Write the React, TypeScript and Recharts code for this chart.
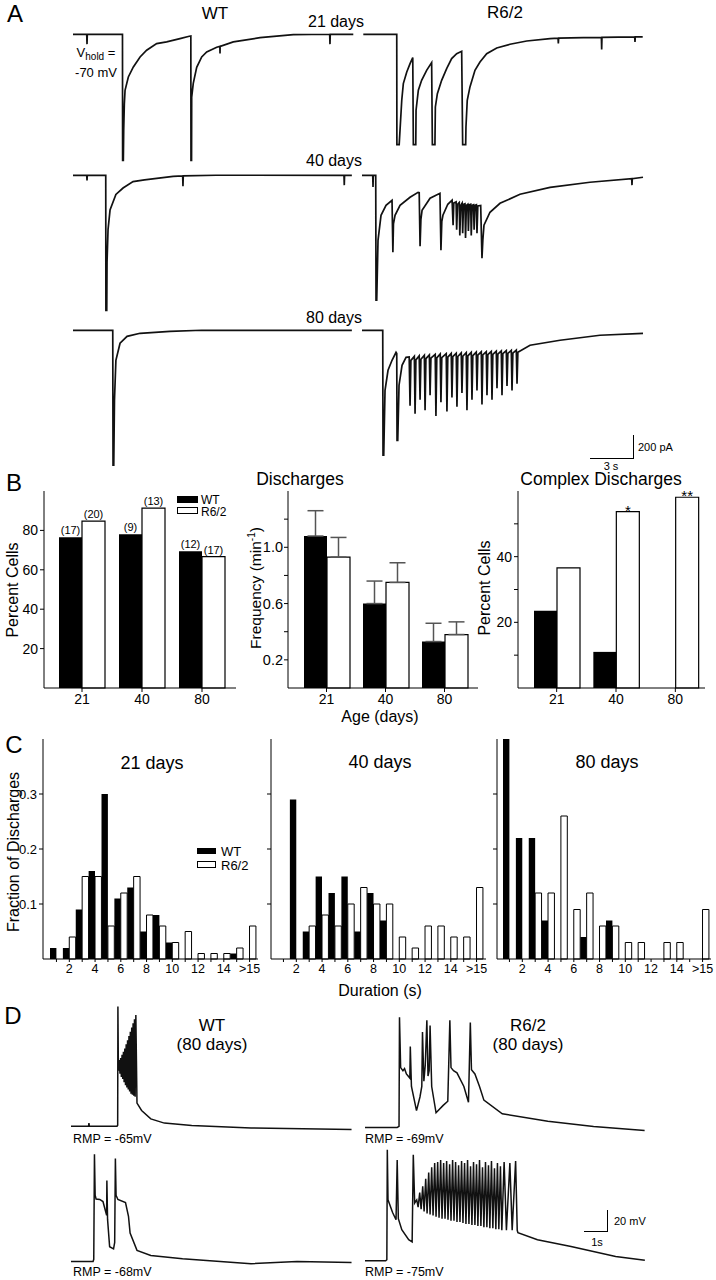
import React from 'react'
import { BarChart, Bar, XAxis, YAxis, ErrorBar, LabelList, LineChart, Line } from 'recharts'

const FONT = '"Liberation Sans", Arial, Helvetica, sans-serif'

// ---------- panel B ----------
const ages = ['21', '40', '80']
const pctWT = [76.5, 78, 69.4]
const pctR62 = [84.7, 91.3, 66.7]
const nWT = [17, 9, 12]
const nR62 = [20, 13, 17]
const freqWT = [1.08, 0.6, 0.33]
const freqR62 = [0.93, 0.75, 0.38]
const freqErrWT = [0.18, 0.16, 0.13]
const freqErrR62 = [0.14, 0.14, 0.09]
const complexWT = [23.5, 11, 0]
const complexR62 = [36.6, 53.7, 58.1]
const complexSig = ['', '*', '**']

// ---------- panel C ----------
const durBins = ['1', '2', '3', '4', '5', '6', '7', '8', '9', '10', '11', '12', '13', '14', '15', '>15']
const d21WT = [0.02, 0.02, 0.09, 0.16, 0.3, 0.11, 0.13, 0.05, 0.08, 0.03, 0, 0, 0, 0, 0.01, 0]
const d21R62 = [0, 0.04, 0.15, 0.15, 0.06, 0.12, 0.15, 0.08, 0.06, 0.03, 0.05, 0.01, 0.01, 0.01, 0.02, 0.06]
const d40WT = [0, 0.29, 0.05, 0.15, 0.12, 0.15, 0.05, 0.12, 0.07, 0, 0, 0, 0, 0, 0, 0]
const d40R62 = [0, 0, 0.06, 0.08, 0.06, 0.1, 0.13, 0.1, 0.1, 0.04, 0.02, 0.06, 0.06, 0.04, 0.04, 0.13]
const d80WT = [0.4, 0.22, 0.22, 0.07, 0, 0, 0.04, 0, 0.07, 0, 0, 0, 0, 0, 0, 0]
const d80R62 = [0, 0, 0.12, 0.12, 0.26, 0.09, 0.12, 0.06, 0.06, 0.03, 0.03, 0, 0.03, 0.03, 0, 0.09]

// ---------- panel A traces: [time s, current pA] ----------
const a21WT: [number, number][] = [[0,0],[0.96,0],[0.98,-85],[1.0,0],[3.46,0],[3.47,-1087],[3.52,-1087],[3.545,-830],[3.59,-600],[3.64,-483],[3.87,-368],[4.22,-282],[4.69,-196],[5.15,-138],[5.85,-80],[6.55,-66],[7.48,-37],[8.13,-17],[8.24,-15],[8.25,-1087],[8.29,-1087],[8.3,-543],[8.41,-423],[8.65,-285],[9.0,-196],[9.35,-153],[10.05,-112],[10.27,-105],[10.28,-165],[10.29,-105],[11.21,-66],[13.08,-29],[15.41,-3],[17.95,0],[17.97,-85],[17.99,0],[19.6,0]]
const a21R62: [number, number][] = [[0.09,0],[2.43,0],[2.44,-951],[2.6,-951],[2.78,-569],[2.89,-425],[3.13,-325],[3.36,-253],[3.55,-201],[3.59,-951],[3.76,-951],[3.78,-655],[3.94,-483],[4.17,-397],[4.52,-311],[4.87,-244],[4.92,-951],[5.1,-951],[5.13,-627],[5.27,-512],[5.57,-397],[5.92,-296],[6.27,-210],[6.62,-167],[6.97,-147],[7.04,-951],[7.25,-951],[7.27,-800],[7.36,-569],[7.55,-454],[7.9,-311],[8.25,-239],[8.72,-167],[9.42,-118],[10.35,-86],[11.52,-58],[13.15,-37],[13.71,-33],[13.73,-80],[13.75,-33],[15.48,-29],[16.74,-26],[16.76,-132],[16.78,-26],[19.07,-23],[19.09,-66],[19.11,-23],[19.63,-23]]
const a40WT: [number, number][] = [[0,0],[0.96,0],[0.98,-45],[1.0,0],[2.29,0],[2.3,-1165],[2.36,-1165],[2.38,-750],[2.45,-470],[2.59,-300],[3.0,-165],[3.5,-110],[4.2,-55],[5.0,-40],[7.0,-10],[7.67,-5],[7.69,-95],[7.71,-5],[10.0,0],[18.95,0],[18.97,-85],[18.99,0],[19.5,0]]
const a40R62: [number, number][] = [[0,0],[0.75,0],[0.77,-100],[0.79,0],[0.96,0],[0.98,-1078],[1.03,-1078],[1.12,-561],[1.33,-345],[1.68,-259],[2.1,-216],[2.16,-664],[2.2,-420],[2.31,-345],[2.66,-259],[3.36,-190],[3.92,-147],[4.0,-150],[4.06,-612],[4.12,-380],[4.2,-302],[4.76,-198],[5.45,-155],[5.52,-647],[5.58,-400],[5.66,-345],[6.0,-250],[6.3,-215],[6.37,-430],[6.42,-240],[6.58,-230],[6.62,-470],[6.68,-250],[6.8,-235],[6.84,-520],[6.9,-260],[7.0,-240],[7.04,-500],[7.1,-250],[7.2,-245],[7.24,-540],[7.3,-260],[7.4,-250],[7.44,-480],[7.5,-255],[7.6,-250],[7.64,-520],[7.7,-260],[7.8,-255],[7.84,-470],[7.9,-260],[8.0,-255],[8.04,-500],[8.1,-265],[8.3,-260],[8.39,-716],[8.45,-560],[8.53,-431],[8.95,-319],[9.65,-242],[11.05,-164],[13.15,-104],[15.94,-60],[18.86,-30],[18.88,-85],[18.9,-30],[19.65,-17]]
const a80WT: [number, number][] = [[0,0],[2.78,0],[2.8,-1164],[2.85,-1164],[2.9,-604],[3.0,-259],[3.29,-112],[3.78,-52],[4.69,-26],[6.78,-9],[9.0,0],[19.5,0]]
const a80R62: [number, number][] = [[0,0],[1.45,0],[1.47,-1078],[1.52,-1078],[1.61,-518],[1.82,-345],[2.1,-259],[2.38,-190],[2.43,-200],[2.45,-949],[2.5,-949],[2.59,-474],[2.8,-302],[3.08,-233],[3.3,-230],[3.36,-650],[3.42,-260],[3.66,-225],[3.71,-720],[3.77,-255],[4.0,-220],[4.06,-600],[4.12,-250],[4.36,-215],[4.41,-690],[4.47,-245],[4.71,-212],[4.76,-560],[4.82,-240],[5.12,-208],[5.17,-740],[5.23,-238],[5.47,-205],[5.52,-620],[5.58,-235],[5.89,-202],[5.94,-700],[6.0,-232],[6.24,-200],[6.29,-580],[6.35,-228],[6.59,-198],[6.64,-660],[6.7,-226],[6.94,-195],[6.99,-540],[7.05,-224],[7.29,-192],[7.34,-690],[7.4,-220],[7.64,-190],[7.69,-600],[7.75,-218],[7.99,-188],[8.04,-520],[8.1,-215],[8.34,-186],[8.39,-640],[8.45,-212],[8.69,-184],[8.74,-560],[8.8,-210],[9.04,-182],[9.09,-600],[9.15,-208],[9.39,-180],[9.44,-500],[9.5,-205],[9.74,-178],[9.79,-560],[9.85,-202],[10.09,-176],[10.14,-480],[10.2,-200],[10.44,-174],[10.49,-520],[10.55,-198],[10.79,-172],[10.84,-460],[10.9,-190],[11.75,-129],[13.85,-86],[16.64,-43],[19.65,-26]]

// ---------- panel D traces: [time s, membrane potential mV] ----------
const dWT1: [number, number][] = [[0,-65],[0.76,-65],[0.78,-62],[0.8,-65],[2.0,-65],[2.03,-64],[2.04,49],[2.06,-12],[2.1,-2],[2.13,-15],[2.16,0],[2.19,-18],[2.22,3],[2.25,-20],[2.28,6],[2.31,-23],[2.34,9],[2.37,-26],[2.4,13],[2.43,-28],[2.46,17],[2.49,-30],[2.52,21],[2.55,-32],[2.58,25],[2.61,-34],[2.64,29],[2.67,-35],[2.7,33],[2.73,-36],[2.76,37],[2.79,-37],[2.82,41],[2.87,-43],[3.07,-50],[3.47,-58],[4.06,-62],[5.25,-64.4],[7.83,-66.6],[12.2,-68.2]]
const dR621: [number, number][] = [[0,-69],[1.4,-69],[1.48,-68],[1.5,36],[1.55,-12],[1.65,-15],[1.72,-13],[1.8,-18],[1.95,-22],[1.97,8],[2.02,-30],[2.24,-53],[2.39,-40],[2.47,-30],[2.5,22],[2.56,-25],[2.62,-10],[2.69,33],[2.74,-20],[2.79,-15],[2.83,28],[2.9,-30],[3.09,-55],[3.4,-48],[3.6,-44],[3.69,33],[3.74,-12],[3.85,-15],[4.0,-17],[4.3,-30],[4.5,-45],[4.58,31],[4.63,-14],[4.78,-18],[4.98,-30],[5.17,-43],[5.97,-56],[7.95,-63],[9.94,-68],[12.16,-72]]
const dWT2: [number, number][] = [[0,-68],[0.96,-68],[0.99,-66],[1.02,34],[1.05,-5],[1.09,-8.6],[1.25,-9],[1.39,-11],[1.5,-20],[1.55,-24],[1.56,9],[1.59,-28],[1.68,-54],[1.85,-56],[1.9,-50],[1.93,30],[1.96,-5],[2.04,-9],[2.37,-12],[2.5,-25],[2.57,-41],[2.87,-57.5],[3.47,-62.3],[4.85,-65.4],[7.83,-70.2],[9.83,-68],[12.2,-69]]
const dR622: [number, number][] = [[0,-75],[0.9,-75],[0.95,-74],[0.97,30.7],[1.0,-17],[1.2,-29],[1.35,-36],[1.4,21],[1.45,-35],[1.6,-45.5],[1.9,-55],[2.05,-57],[2.1,26],[2.16,-20],[2.25,-17],[2.31,-24],[2.38,-10],[2.44,-26],[2.51,-4],[2.57,-28],[2.64,3],[2.7,-30],[2.77,9],[2.83,-31],[2.9,14],[2.96,-32],[3.03,18],[3.09,-33],[3.16,19],[3.22,-34],[3.29,21],[3.35,-35],[3.42,18],[3.48,-35],[3.55,20],[3.61,-36],[3.68,17],[3.74,-37],[3.81,21],[3.87,-37],[3.94,19],[4.0,-38],[4.07,16],[4.13,-38],[4.2,20],[4.26,-39],[4.33,18],[4.39,-40],[4.46,21],[4.52,-40],[4.59,15],[4.65,-41],[4.72,19],[4.78,-41],[4.85,17],[4.91,-42],[4.98,21],[5.04,-42],[5.11,14],[5.17,-43],[5.24,19],[5.3,-43],[5.37,16],[5.43,-44],[5.5,20],[5.56,-44],[5.63,13],[5.69,-45],[5.76,18],[5.82,-45],[5.89,15],[5.95,-46],[6.05,19],[6.15,-46],[6.3,18],[6.4,-46],[6.55,20],[6.62,-46],[6.65,-48.3],[7.5,-55],[8.96,-61.4],[10.9,-71],[12.17,-74.5]]

const axisStyle = { stroke: '#000', strokeWidth: 1 }

const Txt = ({ x, y, size = 14, left = false, rotate = false, children }: any) => (
  <div
    style={{
      position: 'absolute',
      left: x,
      top: y,
      fontSize: size,
      lineHeight: 1,
      whiteSpace: 'nowrap',
      transform: `translate(${left ? '0' : '-50%'}, -50%)${rotate ? ' rotate(-90deg)' : ''}`,
    }}
  >
    {children}
  </div>
)

const Rule = ({ x, y, w, h }: any) => (
  <div style={{ position: 'absolute', left: x, top: y, width: w, height: h, background: '#000' }} />
)

const Trace = ({ pts, left, top, width, height, xMax, yMin, yMax, sw = 1.7 }: any) => {
  const data = pts.map(([t, v]: [number, number]) => ({ t, v }))
  return (
    <div style={{ position: 'absolute', left, top }}>
      <LineChart width={width} height={height} data={data} margin={{ top: 0, right: 0, bottom: 0, left: 0 }}>
        <XAxis dataKey="t" type="number" domain={[0, xMax]} hide allowDataOverflow />
        <YAxis type="number" domain={[yMin, yMax]} hide allowDataOverflow />
        <Line dataKey="v" type="linear" stroke="#111" strokeWidth={sw} dot={false} isAnimationActive={false} />
      </LineChart>
    </div>
  )
}

const tickStyle = (size: number) => ({ fontSize: size, fill: '#000', fontFamily: FONT })

const Hist = ({ left, width, wt, r62, showY, padL, padR }: any) => {
  const data = durBins.map((d, i) => ({ d, wt: wt[i], r62: r62[i] }))
  return (
    <div style={{ position: 'absolute', left, top: 729 }}>
      <BarChart width={width + 10} height={260} data={data} margin={{ top: 10, right: 10, bottom: 0, left: 0 }} barGap={0} barCategoryGap={0}>
        <XAxis
          dataKey="d"
          interval={0}
          padding={{ left: padL, right: padR }}
          height={30}
          tickSize={3}
          axisLine={axisStyle}
          tickLine={axisStyle}
          tick={tickStyle(12.5)}
          tickFormatter={(v: string) => (v === '>15' || Number(v) % 2 === 0 ? v : '')}
        />
        <YAxis
          type="number"
          domain={[0, 0.4]}
          ticks={[0.1, 0.2, 0.3]}
          width={43}
          tickSize={4}
          axisLine={axisStyle}
          tickLine={axisStyle}
          tick={tickStyle(13)}
          tickFormatter={(v: number) => (showY ? v.toFixed(1) : '')}
        />
        <Bar dataKey="wt" fill="#000" barSize={6.4} isAnimationActive={false} />
        <Bar dataKey="r62" fill="#fff" stroke="#000" strokeWidth={1} barSize={6.4} isAnimationActive={false} />
      </BarChart>
    </div>
  )
}

const App = () => {
  const pctData = ages.map((a, i) => ({ age: a, wt: pctWT[i], r62: pctR62[i], nWT: nWT[i], nR: nR62[i] }))
  const freqData = ages.map((a, i) => ({ age: a, wt: freqWT[i], r62: freqR62[i], eWT: [0, freqErrWT[i]], eR: [0, freqErrR62[i]] }))
  const cxData = ages.map((a, i) => ({ age: a, wt: complexWT[i], r62: complexR62[i], sig: complexSig[i] }))

  const xAxisB = (padL: number, padR: number) => (
    <XAxis
      dataKey="age"
      padding={{ left: padL, right: padR }}
      height={30}
      tickSize={4}
      axisLine={axisStyle}
      tickLine={axisStyle}
      tick={tickStyle(14)}
    />
  )

  return (
    <div
      style={{
        position: 'absolute',
        left: 0,
        top: 0,
        width: 716,
        height: 1280,
        background: '#fff',
        color: '#000',
        fontFamily: FONT,
        overflow: 'hidden',
      }}
    >
      {/* ---------- A ---------- */}
      <Txt x={15} y={14} size={24}>A</Txt>
      <Txt x={215} y={13} size={17}>WT</Txt>
      <Txt x={505} y={12} size={17}>R6/2</Txt>
      <Txt x={336} y={22} size={16}>21 days</Txt>
      <Txt x={334} y={161} size={16}>40 days</Txt>
      <Txt x={334} y={318} size={16}>80 days</Txt>
      <Txt x={96} y={54} size={13}>
        V<sub style={{ fontSize: 10 }}>hold</sub> =
      </Txt>
      <Txt x={96} y={72} size={13}>-70 mV</Txt>

      <Trace pts={a21WT} left={73} top={24.7} width={282} height={160} xMax={19.72} yMin={-1300} yMax={80} />
      <Trace pts={a21R62} left={362} top={24.7} width={282} height={160} xMax={19.72} yMin={-1300} yMax={80} />
      <Trace pts={a40WT} left={73} top={165.7} width={282} height={160} xMax={19.72} yMin={-1300} yMax={80} />
      <Trace pts={a40R62} left={362} top={165.7} width={282} height={160} xMax={19.72} yMin={-1300} yMax={80} />
      <Trace pts={a80WT} left={73} top={320.7} width={282} height={160} xMax={19.72} yMin={-1300} yMax={80} />
      <Trace pts={a80R62} left={362} top={320.7} width={282} height={160} xMax={19.72} yMin={-1300} yMax={80} />

      <Rule x={632.5} y={435} w={1.3} h={24} />
      <Rule x={590} y={458} w={44} h={1.3} />
      <Txt x={638} y={447} size={11} left>200 pA</Txt>
      <Txt x={611} y={466} size={11}>3 s</Txt>

      {/* ---------- B ---------- */}
      <Txt x={14} y={483} size={24}>B</Txt>
      <Txt x={300} y={480} size={17.5}>Discharges</Txt>
      <Txt x={601} y={480} size={17.5}>Complex Discharges</Txt>
      <Txt x={13} y={590} size={16} rotate>Percent Cells</Txt>
      <Txt x={255} y={588} size={15.5} rotate>
        Frequency (min<sup style={{ fontSize: 10 }}>-1</sup>)
      </Txt>
      <Txt x={485} y={588} size={16} rotate>Percent Cells</Txt>
      <Txt x={380} y={717} size={16}>Age (days)</Txt>

      <div style={{ position: 'absolute', left: 177, top: 496, width: 21, height: 7, background: '#000' }} />
      <Txt x={201} y={499.5} size={12} left>WT</Txt>
      <div style={{ position: 'absolute', left: 177, top: 507, width: 19, height: 5, border: '1px solid #000', background: '#fff' }} />
      <Txt x={201} y={511.5} size={12} left>R6/2</Txt>

      <div style={{ position: 'absolute', left: 0, top: 481 }}>
        <BarChart width={236} height={237} data={pctData} margin={{ top: 10, right: 0, bottom: 0, left: 0 }} barGap={0} barCategoryGap={7}>
          {xAxisB(8, 4)}
          <YAxis type="number" domain={[0, 100]} ticks={[20, 40, 60, 80]} width={44} tickSize={4} axisLine={axisStyle} tickLine={axisStyle} tick={tickStyle(14)} />
          <Bar dataKey="wt" fill="#000" isAnimationActive={false}>
            <LabelList dataKey="nWT" position="top" offset={3} formatter={(v: any) => `(${v})`} style={{ fontSize: 11, fill: '#000' }} />
          </Bar>
          <Bar dataKey="r62" fill="#fff" stroke="#000" strokeWidth={1.2} isAnimationActive={false}>
            <LabelList dataKey="nR" position="top" offset={3} formatter={(v: any) => `(${v})`} style={{ fontSize: 11, fill: '#000' }} />
          </Bar>
        </BarChart>
      </div>

      <div style={{ position: 'absolute', left: 244, top: 481 }}>
        <BarChart width={234} height={237} data={freqData} margin={{ top: 10, right: 0, bottom: 0, left: 0 }} barGap={0} barCategoryGap={7}>
          {xAxisB(9, 4)}
          <YAxis
            type="number"
            domain={[0, 1.4]}
            ticks={[0.2, 0.4, 0.6, 0.8, 1.0, 1.2]}
            width={44}
            tickSize={4}
            tickMargin={1}
            axisLine={axisStyle}
            tickLine={axisStyle}
            tick={tickStyle(14.5)}
            tickFormatter={(v: number, i: number) => (i % 2 === 0 ? v.toFixed(1) : '')}
          />
          <Bar dataKey="wt" fill="#000" isAnimationActive={false}>
            <ErrorBar dataKey="eWT" direction="y" width={8} stroke="#555" strokeWidth={1.5} />
          </Bar>
          <Bar dataKey="r62" fill="#fff" stroke="#000" strokeWidth={1.2} isAnimationActive={false}>
            <ErrorBar dataKey="eR" direction="y" width={8} stroke="#555" strokeWidth={1.5} />
          </Bar>
        </BarChart>
      </div>

      <div style={{ position: 'absolute', left: 474, top: 481 }}>
        <BarChart width={231} height={237} data={cxData} margin={{ top: 10, right: 0, bottom: 0, left: 0 }} barGap={0} barCategoryGap={7}>
          {xAxisB(9, 0)}
          <YAxis
            type="number"
            domain={[0, 60]}
            ticks={[10, 20, 30, 40, 50]}
            width={44}
            tickSize={4}
            axisLine={axisStyle}
            tickLine={axisStyle}
            tick={tickStyle(14)}
            tickFormatter={(v: number) => (v === 20 || v === 40 ? String(v) : '')}
          />
          <Bar dataKey="wt" fill="#000" isAnimationActive={false} />
          <Bar dataKey="r62" fill="#fff" stroke="#000" strokeWidth={1.2} isAnimationActive={false}>
            <LabelList dataKey="sig" position="top" offset={-4} style={{ fontSize: 15, fill: '#000' }} />
          </Bar>
        </BarChart>
      </div>

      {/* ---------- C ---------- */}
      <Txt x={14} y={745} size={24}>C</Txt>
      <Txt x={14} y={852} size={16} rotate>Fraction of Discharges</Txt>
      <Txt x={152} y={763} size={18}>21 days</Txt>
      <Txt x={380} y={762} size={18}>40 days</Txt>
      <Txt x={607} y={762} size={18}>80 days</Txt>
      <Txt x={380} y={991} size={16}>Duration (s)</Txt>

      <Hist left={0} width={258} wt={d21WT} r62={d21R62} showY padL={7} padR={2} />
      <Hist left={228} width={258} wt={d40WT} r62={d40R62} showY={false} padL={6} padR={3} />
      <Hist left={454} width={257} wt={d80WT} r62={d80R62} showY={false} padL={6} padR={2} />

      <div style={{ position: 'absolute', left: 197, top: 848, width: 19, height: 6, background: '#000' }} />
      <Txt x={221} y={851} size={13} left>WT</Txt>
      <div style={{ position: 'absolute', left: 197, top: 861, width: 17, height: 5, border: '1px solid #000', background: '#fff' }} />
      <Txt x={221} y={865} size={13} left>R6/2</Txt>

      {/* ---------- D ---------- */}
      <Txt x={13} y={1016} size={24}>D</Txt>
      <Txt x={212} y={1025} size={17}>WT</Txt>
      <Txt x={212} y={1044} size={17}>(80 days)</Txt>
      <Txt x={528} y={1025} size={17}>R6/2</Txt>
      <Txt x={528} y={1044} size={17}>(80 days)</Txt>

      <Trace pts={dWT1} left={71} top={994.75} width={281} height={147} xMax={12.22} yMin={-80} yMax={60} sw={1.5} />
      <Trace pts={dR621} left={365} top={991.55} width={281} height={147} xMax={12.22} yMin={-80} yMax={60} sw={1.5} />
      <Trace pts={dWT2} left={71} top={1126.6} width={281} height={147} xMax={12.22} yMin={-80} yMax={60} sw={1.5} />
      <Trace pts={dR622} left={365} top={1119.25} width={281} height={147} xMax={12.22} yMin={-80} yMax={60} sw={1.5} />

      <Txt x={73} y={1139} size={12.5} left>RMP = -65mV</Txt>
      <Txt x={365} y={1139} size={12.5} left>RMP = -69mV</Txt>
      <Txt x={73} y={1272} size={12.5} left>RMP = -68mV</Txt>
      <Txt x={365} y={1272} size={12.5} left>RMP = -75mV</Txt>

      <Rule x={606.5} y={1210} w={1.3} h={22} />
      <Rule x={584} y={1230.7} w={24} h={1.3} />
      <Txt x={614} y={1221} size={11} left>20 mV</Txt>
      <Txt x={597} y={1242} size={11}>1s</Txt>
    </div>
  )
}

export default App
